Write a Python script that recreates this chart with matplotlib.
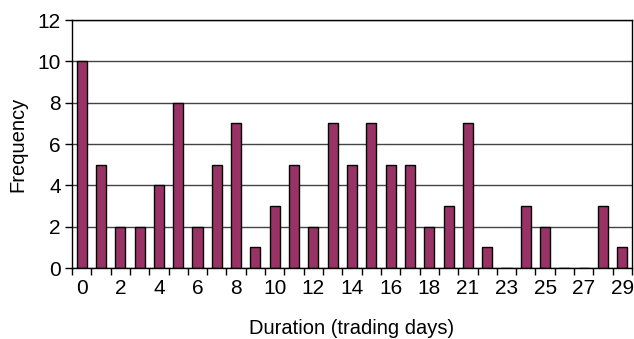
import matplotlib.pyplot as plt
import numpy as np

plt.rcParams['font.family'] = ['Liberation Sans', 'DejaVu Sans']
fontsize = 14.5

# Daten (Kategorien der Dauer und Häufigkeiten)
durations = ['0', '1', '2', '3', '4', '5', '6', '7', '8', '9', '10', '11', '12', '13', '14',
             '15', '16', '17', '18', '20', '21', '22', '23', '24', '25', '26', '27', '28', '29']
frequency = [10, 5, 2, 2, 4, 8, 2, 5, 7, 1, 3, 5, 2, 7, 5,
             7, 5, 5, 2, 3, 7, 1, 0, 3, 2, 0, 0, 3, 1]
shown_labels = ['0', '2', '4', '6', '8', '10', '12', '14', '16', '18',
                '21', '23', '25', '27', '29']

fig = plt.figure(figsize=(6.34, 3.39), dpi=100)
ax = fig.add_axes([72 / 634, 1 - 268 / 339, 560 / 634, 248 / 339])

x = np.arange(len(durations))
ax.set_axisbelow(True)
ax.yaxis.grid(True, color='#444444', linewidth=1)
ax.bar(x, frequency, width=0.52, color='#993366', edgecolor='black', linewidth=1)

ax.set_xlim(-0.5, len(durations) - 0.5)
ax.set_ylim(0, 12)
ax.set_yticks(range(0, 13, 2))

# Tickmarks zwischen den Kategorien, Beschriftung nur für ausgewählte
ax.set_xticks(np.arange(-0.5, len(durations), 1))
ax.set_xticklabels([])
ax.set_xticks([i for i, d in enumerate(durations) if d in shown_labels], minor=True)
ax.set_xticklabels(shown_labels, minor=True)
ax.tick_params(axis='x', which='minor', length=0, labelsize=fontsize + 0.5, pad=8)
ax.tick_params(axis='x', which='major', length=5, direction='out', width=1)
ax.tick_params(axis='y', labelsize=fontsize + 0.5, length=5, direction='out', width=1, pad=3)

for s in ['left', 'right', 'top', 'bottom']:
    ax.spines[s].set_color('black')
    ax.spines[s].set_linewidth(1)

ax.set_ylabel('Frequency', fontsize=fontsize, labelpad=7)
ax.set_xlabel('Duration (trading days)', fontsize=fontsize, labelpad=15)

plt.savefig('out.png', dpi=100)
